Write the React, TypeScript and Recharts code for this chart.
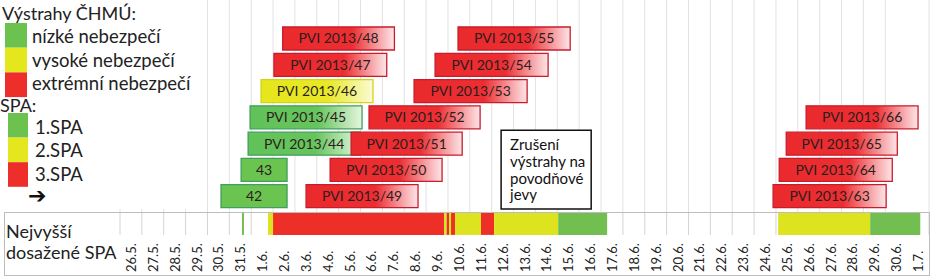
import React from 'react';
import { ComposedChart, Bar, XAxis, YAxis, CartesianGrid, Cell, LabelList, ReferenceArea } from 'recharts';

// ---- data ----
const dateLabels = ['26.5.', '27.5.', '28.5.', '29.5.', '30.5.', '31.5.', '1.6.', '2.6.', '3.6.', '4.6.', '5.6.', '6.6.', '7.6.', '8.6.', '9.6.', '10.6.', '11.6.', '12.6.', '13.6.', '14.6.', '15.6.', '16.6.', '17.6.', '18.6.', '19.6.', '20.6.', '21.6.', '22.6.', '23.6.', '24.6.', '25.6.', '26.6.', '27.6.', '28.6.', '29.6.', '30.6.', '1.7.'];

const rowIds = ['r0', 'r1', 'r2', 'r3', 'r4', 'r5', 'r6'];

const warningNames = ['42', '43', 'PVI 2013/44', 'PVI 2013/45', 'PVI 2013/46', 'PVI 2013/47', 'PVI 2013/48', 'PVI 2013/49', 'PVI 2013/50', 'PVI 2013/51', 'PVI 2013/52', 'PVI 2013/53', 'PVI 2013/54', 'PVI 2013/55', 'PVI 2013/63', 'PVI 2013/64', 'PVI 2013/65', 'PVI 2013/66'];
const warningRows = [6, 5, 4, 3, 2, 1, 0, 6, 5, 4, 3, 2, 1, 0, 6, 5, 4, 3];
// start / end in days counted from the beginning of 26.5.
const warningStarts = [4.62, 5.54, 5.86, 5.95, 6.45, 7.04, 7.44, 8.51, 9.61, 10.57, 11.39, 13.45, 14.41, 15.46, 29.87, 30.15, 30.47, 31.38];
const warningEnds = [7.64, 7.64, 10.98, 11.07, 11.57, 12.2, 12.55, 13.63, 14.73, 15.65, 16.47, 18.62, 19.58, 20.59, 35.04, 35.32, 35.55, 36.5];
const warningLevels = [1, 1, 1, 1, 2, 3, 3, 3, 3, 3, 3, 3, 3, 3, 3, 3, 3, 3];

const spaStarts = [5.58, 6.77, 7.0, 14.82, 14.94, 15.05, 15.14, 15.32, 16.51, 17.11, 20.04, 30.1, 34.31];
const spaEnds = [5.67, 7.0, 14.82, 14.94, 15.05, 15.14, 15.32, 16.51, 17.11, 20.04, 22.28, 34.31, 36.6];
const spaLevels = [1, 2, 3, 2, 3, 2, 3, 2, 3, 2, 1, 2, 1];

const legendWarnings = ['nízké nebezpečí', 'vysoké nebezpečí', 'extrémní nebezpečí'];
const legendSpa = ['1.SPA', '2.SPA', '3.SPA'];
const noteLines = ['Zrušení', 'výstrahy na', 'povodňové', 'jevy'];
const noteStart = 17.43;
const noteEnd = 21.55;
const noteRows = ['r4', 'r6'];
const stripLabel = ['Nejvyšší', 'dosažené SPA'];

// ---- derived ----
const boundaries = dateLabels.map((_, i) => i).concat([dateLabels.length]);
const centers = dateLabels.map((_, i) => i + 0.5);

const rowData: any[] = rowIds.map((id) => ({ row: id }));
const slotCount = rowIds.map(() => 0);
warningNames.forEach((name, i) => {
  const r = warningRows[i];
  const s = slotCount[r]++;
  rowData[r]['v' + s] = [warningStarts[i], warningEnds[i]];
  rowData[r]['n' + s] = name;
  rowData[r]['l' + s] = warningLevels[i];
  rowData[r]['g' + s] = name.startsWith('PVI');
});
const slots = [0, 1, 2];

const spaRow: any = { cat: 'SPA' };
spaStarts.forEach((s, i) => {
  spaRow['s' + i] = [s, spaEnds[i]];
});
const spaData = [spaRow];

// ---- styles ----
const FONT = 'Lato, "Open Sans", sans-serif';
const levelColors: any = { 1: '#6cc24f', 2: '#e4e61e', 3: '#ee2e2b' };
const stripColors: any = { 1: '#72be50', 2: '#dde31f', 3: '#ee2f27' };
const strokeColors: any = { 1: '#3f9f5c', 2: '#d3d21c', 3: '#c81c2c' };
const solidColors: any = { 1: '#6cc450', 2: '#e4e61e', 3: '#ea2a2d' };

const DateTick = (props: any) => {
  const { x, y, payload } = props;
  const label = dateLabels[Math.floor(payload.value)];
  const by = y + 37;
  return (
    <text x={x} y={by} transform={`rotate(-90, ${x}, ${by})`} textAnchor="start" dominantBaseline="central" fontSize={13} fontFamily={FONT} fill="#222">
      {label}
    </text>
  );
};

const NoteLabel = (props: any) => {
  const vb = props.viewBox || {};
  return (
    <text fontFamily={FONT} fontSize={15} fill="#111">
      {noteLines.map((t, i) => (
        <tspan key={i} x={vb.x + 9} y={vb.y + 20 + i * 16.7}>
          {t}
        </tspan>
      ))}
    </text>
  );
};

export default function App() {
  return (
    <div style={{ position: 'relative', width: 931, height: 278, background: '#fff', overflow: 'hidden' }}>
      <style>{`body{margin:0;}`}</style>
      <div style={{ position: 'absolute', left: 0, top: 0 }}>
        <ComposedChart
          width={931}
          height={212}
          data={rowData}
          layout="vertical"
          margin={{ top: 0, right: 2, bottom: 0, left: 120 }}
          barGap={-23}
        >
          <defs>
            <linearGradient id="grad1" x1="0" y1="0" x2="1" y2="0">
              <stop offset="0" stopColor="#62c25a" />
              <stop offset="0.6" stopColor="#66c45c" />
              <stop offset="1" stopColor="#e4f6de" />
            </linearGradient>
            <linearGradient id="grad2" x1="0" y1="0" x2="1" y2="0">
              <stop offset="0" stopColor="#e6e61c" />
              <stop offset="0.6" stopColor="#e8e828" />
              <stop offset="1" stopColor="#fbfbd6" />
            </linearGradient>
            <linearGradient id="grad3" x1="0" y1="0" x2="1" y2="0">
              <stop offset="0" stopColor="#ea2a2d" />
              <stop offset="0.62" stopColor="#ec2e32" />
              <stop offset="1" stopColor="#fde6e8" />
            </linearGradient>
          </defs>
          <XAxis xAxisId="x" type="number" domain={[0, 37]} ticks={boundaries} hide />
          <YAxis yAxisId="rows" type="category" dataKey="row" hide padding={{ top: 25, bottom: 3 }} />
          <CartesianGrid xAxisId="x" yAxisId="rows" horizontal={false} verticalValues={boundaries} stroke="#e2e2e2" />
          <ReferenceArea
            xAxisId="x"
            yAxisId="rows"
            x1={noteStart}
            x2={noteEnd}
            y1={noteRows[0]}
            y2={noteRows[1]}
            fill="#fff"
            fillOpacity={1}
            stroke="#111"
            strokeWidth={1.5}
            label={<NoteLabel />}
          />
          {slots.map((s) => (
            <Bar key={s} dataKey={'v' + s} xAxisId="x" yAxisId="rows" barSize={23} strokeWidth={1.3} isAnimationActive={false}>
              {rowData.map((d, i) => {
                const lv = d['l' + s];
                return (
                  <Cell
                    key={i}
                    fill={lv ? (d['g' + s] ? `url(#grad${lv})` : solidColors[lv]) : 'none'}
                    stroke={lv ? strokeColors[lv] : 'none'}
                  />
                );
              })}
              <LabelList dataKey={'n' + s} position="center" fill="#2b1d1d" fontSize={14} fontFamily={FONT} />
            </Bar>
          ))}
        </ComposedChart>
      </div>
      <div style={{ position: 'absolute', left: 0, top: 212 }}>
        <ComposedChart
          width={931}
          height={66}
          data={spaData}
          layout="vertical"
          margin={{ top: 0, right: 2, bottom: 0, left: 120 }}
          barGap={-22.9}
          barCategoryGap={0}
        >
          <XAxis
            xAxisId="grid"
            type="number"
            domain={[0, 37]}
            ticks={boundaries}
            height={0}
            tick={false}
            tickSize={40}
            tickLine={{ stroke: '#cfcfcf' }}
            axisLine={{ stroke: '#bdbdbd' }}
          />
          <XAxis
            xAxisId="date"
            type="number"
            domain={[0, 37]}
            ticks={centers}
            height={43}
            interval={0}
            axisLine={false}
            tickLine={false}
            tickSize={0}
            tickMargin={0}
            tick={<DateTick />}
          />
          <YAxis yAxisId="spa" type="category" dataKey="cat" hide />
          <CartesianGrid xAxisId="date" yAxisId="spa" horizontal={false} verticalValues={boundaries} stroke="#d4d4d4" />
          {spaStarts.map((_, i) => (
            <Bar key={i} dataKey={'s' + i} xAxisId="date" yAxisId="spa" barSize={22.9} fill={stripColors[spaLevels[i]]} isAnimationActive={false} />
          ))}
        </ComposedChart>
      </div>
      {/* table frame */}
      <div
        style={{
          position: 'absolute',
          left: 4,
          top: 212,
          width: 926,
          height: 64,
          border: '1px solid #bdbdbd',
          boxSizing: 'border-box',
          pointerEvents: 'none',
        }}
      />
      <svg width={931} height={278} style={{ position: 'absolute', left: 0, top: 0, pointerEvents: 'none' }}>
        <text fontFamily={FONT} fontSize={18} fill="#222">
          {stripLabel.map((t, i) => (
            <tspan key={i} x={6} y={238 + i * 21}>
              {t}
            </tspan>
          ))}
        </text>
      </svg>
      {/* legend */}
      <svg width={200} height={211} style={{ position: 'absolute', left: 0, top: 0, pointerEvents: 'none' }}>
        <rect x={0} y={0} width={200} height={209} fill="#fff" />
        <text x={2} y={20} fontFamily={FONT} fontSize={18} fill="#222">Výstrahy ČHMÚ:</text>
        {legendWarnings.map((t, i) => (
          <g key={t}>
            <rect x={5} y={23 + i * 24.7} width={22} height={24.7} fill={levelColors[i + 1]} />
            <text x={32} y={43 + i * 23.5} fontFamily={FONT} fontSize={18.5} fill="#222">{t}</text>
          </g>
        ))}
        <text x={0} y={112} fontFamily={FONT} fontSize={18} fill="#222">SPA:</text>
        {legendSpa.map((t, i) => (
          <g key={t}>
            <rect x={8} y={113 + i * 24.6} width={20} height={24.6} fill={levelColors[i + 1]} />
            <text x={35} y={133.5 + i * 23.5} fontFamily={FONT} fontSize={18.5} fill="#222">{t}</text>
          </g>
        ))}
        <text x={28} y={203} fontFamily="DejaVu Sans" fontSize={22} fontWeight="bold" fill="#111">➔</text>
      </svg>
    </div>
  );
}
